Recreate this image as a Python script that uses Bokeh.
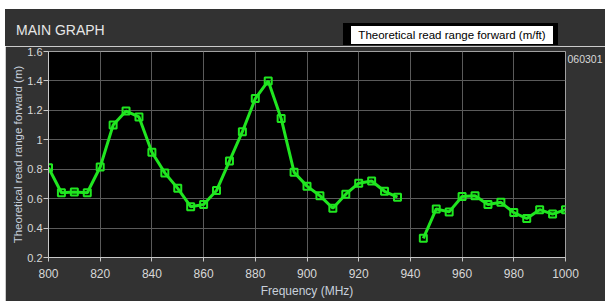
from bokeh.plotting import figure
from bokeh.layouts import column, row
from bokeh.models import Range1d, FixedTicker, LinearAxis, Div, Spacer
from bokeh.embed import file_html
from bokeh.resources import INLINE

# ---- data ----
freq_mhz = [800, 805, 810, 815, 820, 825, 830, 835, 840, 845, 850, 855, 860, 865,
            870, 875, 880, 885, 890, 895, 900, 905, 910, 915, 920, 925, 930, 935,
            940,
            945, 950, 955, 960, 965, 970, 975, 980, 985, 990, 995, 1000]
read_range_m = [0.81, 0.64, 0.645, 0.64, 0.815, 1.10, 1.195, 1.155, 0.915, 0.775,
                0.67, 0.545, 0.56, 0.655, 0.855, 1.055, 1.28, 1.40, 1.145, 0.78,
                0.685, 0.62, 0.535, 0.63, 0.705, 0.72, 0.65, 0.61,
                float("nan"),
                0.33, 0.53, 0.51, 0.615, 0.62, 0.56, 0.575, 0.505, 0.465, 0.525,
                0.495, 0.525]
x_ticks = [800, 820, 840, 860, 880, 900, 920, 940, 960, 980, 1000]
y_ticks = [0.2, 0.4, 0.6, 0.8, 1.0, 1.2, 1.4, 1.6]
y_tick_labels = ["0.2", "0.4", "0.6", "0.8", "1", "1.2", "1.4", "1.6"]
panel_title = "MAIN GRAPH"
legend_text = "Theoretical read range forward (m/ft)"
device_id = "060301"

FONT = "Liberation Sans"
GREEN = "#20e620"
PANEL = "#323232"
TXT = "#d8d8d8"
W = 600

# ---- header strip (title + legend box) ----
header_html = (
    f'<div style="position:relative;width:{W}px;height:37px;background:{PANEL};'
    f'overflow:hidden;font-family:\'{FONT}\',sans-serif;">'
    f'<span style="position:absolute;left:11px;top:14px;font-size:14px;line-height:1;'
    f'color:#e6e6e6;white-space:nowrap;">{panel_title}</span>'
    f'<div style="position:absolute;left:338px;top:14px;width:215px;height:22px;'
    f'box-sizing:border-box;background:white;border-style:solid;border-color:black;'
    f'border-width:3px 5px 1px 8px;font-size:11.5px;line-height:18px;color:black;'
    f'text-align:center;white-space:nowrap;">{legend_text}</div>'
    f'</div>'
)
hdr = Div(text=header_html, width=W, height=37, margin=0)

# ---- main graph ----
p = figure(width=W, height=255, output_backend="svg", toolbar_location=None,
           x_range=Range1d(800, 1000), y_range=Range1d(0.2, 1.6),
           min_border_left=43, min_border_right=40, min_border_top=5,
           min_border_bottom=44, margin=0)
p.border_fill_color = PANEL
p.background_fill_color = "black"
p.outline_line_color = "#a0a0a0"

p.xgrid.grid_line_color = "#5a5a5a"
p.ygrid.grid_line_color = "#5a5a5a"
p.xaxis.ticker = FixedTicker(ticks=x_ticks)
p.yaxis.ticker = FixedTicker(ticks=y_ticks)
p.yaxis.major_label_overrides = dict(zip(y_ticks, y_tick_labels))

for ax in (p.xaxis[0], p.yaxis[0]):
    ax.axis_line_color = "#c8c8c8"
    ax.major_tick_line_color = "#c8c8c8"
    ax.minor_tick_line_color = None
    ax.major_tick_in = 0
    ax.major_label_text_color = TXT
    ax.major_label_text_font = FONT
    ax.axis_label_text_font = FONT
    ax.axis_label_text_font_style = "normal"
    ax.axis_label_text_color = "#c8d0dc"

p.xaxis.major_tick_out = 4
p.xaxis.major_label_standoff = 7
p.xaxis.axis_label_standoff = 3
p.xaxis.major_label_text_font_size = "12px"
p.xaxis.axis_label_text_font_size = "12px"
p.xaxis.axis_label = "Frequency (MHz)"

p.yaxis.major_tick_out = 5
p.yaxis.major_label_standoff = 1
p.yaxis.axis_label_standoff = 0
p.yaxis.major_label_text_font_size = "11px"
p.yaxis.axis_label_text_font_size = "11.5px"
p.yaxis.axis_label = "Theoretical read range forward (m)"

# device id shown to the right of the graph's top edge
id_axis = LinearAxis(ticker=FixedTicker(ticks=[1.55]),
                     major_label_overrides={1.55: device_id},
                     axis_line_color=None, major_tick_line_color=None,
                     minor_tick_line_color=None, major_tick_out=0, major_tick_in=0,
                     major_label_standoff=2, major_label_text_color=TXT,
                     major_label_text_font=FONT, major_label_text_font_size="10.5px")
p.add_layout(id_axis, "right")

p.line(freq_mhz, read_range_m, line_color=GREEN, line_width=3)
p.scatter(freq_mhz, read_range_m, marker="square", size=7, line_color=GREEN,
          line_width=2, fill_alpha=0)

layout = row(Spacer(width=5, height=301, margin=0),
             column(Spacer(width=W, height=9, margin=0), hdr, p, spacing=0, margin=0),
             spacing=0, margin=0)
open("out.html", "w").write(file_html(layout, INLINE))
